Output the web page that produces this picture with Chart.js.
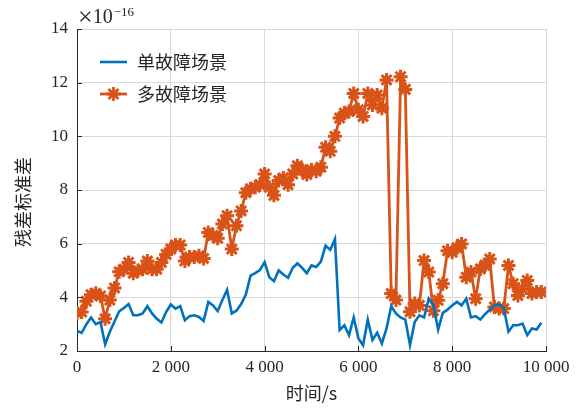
<!DOCTYPE html>
<html>
<head>
<meta charset="utf-8">
<script src="https://cdn.jsdelivr.net/npm/chart.js@4.4.1/dist/chart.umd.min.js"></script>
<style>
  html, body { margin: 0; padding: 0; background: #ffffff; }
  #wrap { width: 577px; height: 408px; }
</style>
</head>
<body>
<div id="wrap"><canvas id="c" width="577" height="408"></canvas></div>
<script>
// Sample times (s), one sample every 100 s
const timeS = Array.from({ length: 100 }, (_, i) => i * 100);

// Residual standard deviation, in units of 1e-16
const singleFault = [
  2.75, 2.68, 3.00, 3.25, 3.00, 3.08, 2.25, 2.72, 3.10, 3.48,
  3.60, 3.75, 3.33, 3.33, 3.40, 3.67, 3.40, 3.20, 3.06, 3.45,
  3.73, 3.58, 3.67, 3.15, 3.30, 3.33, 3.27, 3.12, 3.83, 3.70,
  3.49, 3.90, 4.28, 3.40, 3.50, 3.75, 4.10, 4.81, 4.90, 5.02,
  5.31, 4.75, 4.60, 5.00, 4.85, 4.73, 5.10, 5.27, 5.10, 4.90,
  5.19, 5.13, 5.33, 5.93, 5.77, 6.17, 2.78, 2.96, 2.59, 3.25,
  2.47, 2.22, 3.17, 2.41, 2.68, 2.28, 2.84, 3.67, 3.40, 3.25,
  3.17, 2.22, 3.08, 3.33, 3.25, 3.95, 3.70, 2.80, 3.42, 3.54,
  3.70, 3.83, 3.70, 3.95, 3.25, 3.30, 3.17, 3.37, 3.54, 3.70,
  3.74, 3.60, 2.72, 2.96, 2.96, 3.02, 2.59, 2.84, 2.80, 3.05
];

const multiFault = [
  3.42, 3.45, 3.85, 4.10, 4.15, 4.05, 3.20, 3.90, 4.35, 4.95,
  5.05, 5.30, 4.90, 5.00, 5.05, 5.35, 5.05, 5.05, 5.30, 5.60,
  5.80, 5.95, 5.95, 5.35, 5.50, 5.50, 5.55, 5.45, 6.42, 6.30,
  6.20, 6.73, 7.04, 5.80, 6.67, 7.22, 7.90, 8.05, 8.10, 8.20,
  8.60, 8.10, 7.80, 8.35, 8.45, 8.20, 8.60, 8.90, 8.75, 8.58,
  8.75, 8.70, 8.85, 9.59, 9.44, 10.00, 10.68, 10.86, 10.93, 11.60,
  10.99, 10.74, 11.60, 11.17, 11.54, 11.05, 12.10, 4.14, 3.90, 12.22,
  11.75, 3.46, 3.77, 3.70, 5.37, 4.94, 3.50, 3.89, 4.51, 5.74,
  5.68, 5.85, 5.99, 4.75, 4.94, 3.95, 5.06, 5.20, 5.43, 3.64,
  3.58, 3.58, 5.19, 4.51, 4.07, 4.32, 4.63, 4.14, 4.20, 4.20
];

const xTicks = [0, 2000, 4000, 6000, 8000, 10000];
const yTicks = [2, 4, 6, 8, 10, 12, 14];
const seriesNames = ['单故障场景', '多故障场景'];
const xTitle = '时间/s';
const yTitle = '残差标准差';
const expTimes = '×';
const expBase = '10';
const expPower = '−16';

const BLUE = '#0072BD';
const ORANGE = '#D95319';
const INK = '#262626';
const SERIF = '"Liberation Serif", "Times New Roman", serif';
const CJK = '"Noto Sans CJK SC", "Noto Sans CJK JP", sans-serif';

const toPoints = (vals) => vals.map((v, i) => ({ x: timeS[i], y: v }));

// thousands separated by a space: 10000 -> "10 000"
const fmtThousands = (v) => String(v).replace(/\B(?=(\d{3})+(?!\d))/g, ' ');

// Inward tick marks, axis titles, exponent note and the legend box
const decorations = {
  id: 'decorations',
  afterDraw(chart) {
    const { ctx, chartArea: a, scales } = chart;
    ctx.save();

    // inward ticks on left and bottom axes
    ctx.strokeStyle = INK;
    ctx.lineWidth = 1;
    ctx.beginPath();
    xTicks.forEach(v => {
      const x = Math.round(scales.x.getPixelForValue(v)) + 0.5;
      ctx.moveTo(x, a.bottom);
      ctx.lineTo(x, a.bottom - 5);
    });
    yTicks.forEach(v => {
      const y = Math.round(scales.y.getPixelForValue(v)) + 0.5;
      ctx.moveTo(a.left, y);
      ctx.lineTo(a.left + 5, y);
    });
    ctx.stroke();

    ctx.fillStyle = INK;

    // exponent note above the y axis
    ctx.textAlign = 'left';
    ctx.textBaseline = 'alphabetic';
    let x0 = a.left + 1;
    ctx.font = '26px ' + SERIF;
    ctx.fillText(expTimes, x0, 25);
    x0 += ctx.measureText(expTimes).width;
    ctx.font = '20px ' + SERIF;
    ctx.fillText(expBase, x0, 23);
    x0 += ctx.measureText(expBase).width;
    ctx.font = '13px ' + SERIF;
    ctx.fillText(expPower, x0 + 1, 16);

    // x axis title
    ctx.font = '18px ' + CJK;
    ctx.textAlign = 'center';
    ctx.textBaseline = 'middle';
    ctx.fillText(xTitle, (a.left + a.right) / 2, 393);

    // y axis title, rotated
    ctx.save();
    ctx.translate(23, 202);
    ctx.rotate(-Math.PI / 2);
    ctx.fillText(yTitle, 0, 0);
    ctx.restore();

    // legend
    const rows = [62, 94];
    chart.data.datasets.forEach((ds, i) => {
      const y = rows[i];
      ctx.strokeStyle = ds.borderColor;
      ctx.lineWidth = ds.borderWidth;
      ctx.beginPath();
      ctx.moveTo(100, y);
      ctx.lineTo(127, y);
      ctx.stroke();
      if (ds.pointRadius > 0) {
        ctx.strokeStyle = ds.pointBorderColor;
        Chart.helpers.drawPoint(ctx, {
          pointStyle: ds.pointStyle,
          radius: ds.pointRadius,
          borderWidth: ds.pointBorderWidth,
          rotation: 0
        }, 113.5, y);
      }
      ctx.fillStyle = INK;
      ctx.font = '18px ' + CJK;
      ctx.textAlign = 'left';
      ctx.textBaseline = 'middle';
      ctx.fillText(ds.label, 137, y);
    });

    ctx.restore();
  }
};

new Chart(document.getElementById('c'), {
  type: 'line',
  data: {
    datasets: [
      {
        label: seriesNames[0],
        data: toPoints(singleFault),
        borderColor: BLUE,
        backgroundColor: BLUE,
        borderWidth: 2.6,
        pointRadius: 0,
        tension: 0
      },
      {
        label: seriesNames[1],
        data: toPoints(multiFault),
        borderColor: ORANGE,
        backgroundColor: ORANGE,
        borderWidth: 2.8,
        pointStyle: 'star',
        pointRadius: 7,
        pointBorderWidth: 3,
        pointBorderColor: ORANGE,
        pointBackgroundColor: ORANGE,
        tension: 0
      }
    ]
  },
  options: {
    responsive: false,
    animation: false,
    events: [],
    layout: { padding: { top: 29, right: 31, left: 0, bottom: 0 } },
    plugins: {
      legend: { display: false },
      tooltip: { enabled: false },
      title: { display: false }
    },
    scales: {
      x: {
        type: 'linear',
        min: 0,
        max: 10000,
        afterBuildTicks: s => { s.ticks = xTicks.map(v => ({ value: v })); },
        afterFit: s => { s.height = 57; },
        ticks: {
          callback: v => fmtThousands(v),
          color: INK,
          font: { family: SERIF, size: 17 },
          padding: 6,
          maxRotation: 0,
          autoSkip: false
        },
        grid: { color: '#dadada', lineWidth: 1, drawTicks: false },
        border: { color: INK, width: 1 }
      },
      y: {
        type: 'linear',
        min: 2,
        max: 14,
        afterBuildTicks: s => { s.ticks = yTicks.map(v => ({ value: v })); },
        afterFit: s => { s.width = 77; },
        ticks: {
          color: INK,
          font: { family: SERIF, size: 17 },
          padding: 9,
          autoSkip: false
        },
        grid: { color: '#dadada', lineWidth: 1, drawTicks: false },
        border: { color: INK, width: 1 }
      }
    }
  },
  plugins: [decorations]
});
</script>
</body>
</html>
